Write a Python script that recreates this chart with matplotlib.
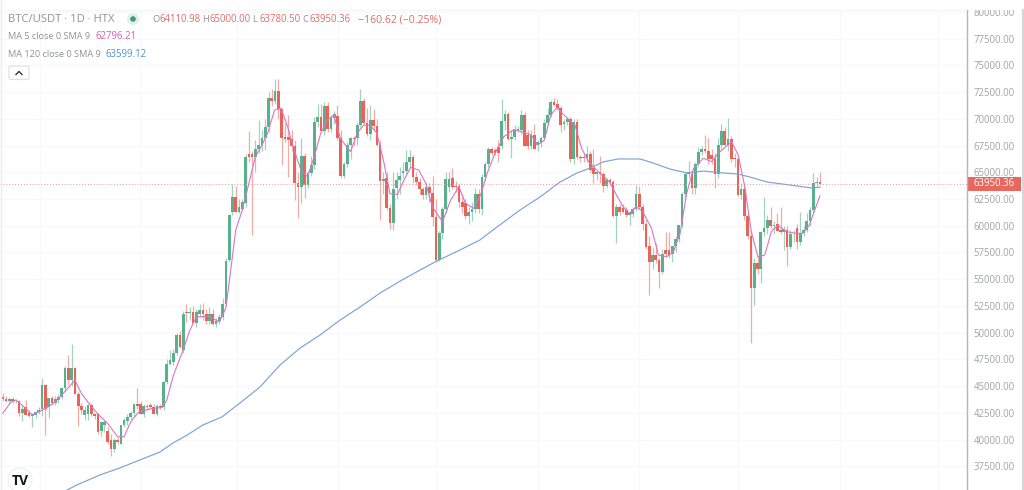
import numpy as np
import matplotlib
matplotlib.use("Agg")
import matplotlib.pyplot as plt
from matplotlib.patches import Rectangle, Circle, FancyBboxPatch
from matplotlib.lines import Line2D
from matplotlib.transforms import Affine2D

# prices are in hundreds of USDT
opens = [440,438,436,438,436,436,425,430,425,422,
423,426,429,451,430,439,434,437,440,448,
467,456,467,443,431,423,424,432,424,424,
408,414,408,400,391,400,396,414,417,421,
425,433,433,424,431,432,430,424,431,430,
454,471,473,481,498,484,519,518,519,509,
517,521,517,511,517,508,511,515,527,568,
613,627,613,616,621,667,667,664,672,676,
682,692,720,717,726,709,683,683,681,675,
640,636,665,638,649,657,697,702,689,712,
691,701,703,682,647,658,676,682,682,694,
717,696,686,699,693,676,642,645,617,603,
635,643,649,651,660,664,646,641,634,629,
636,631,608,568,593,616,636,645,637,637,
622,621,609,613,616,630,616,646,658,672,
671,674,675,698,705,681,683,690,690,704,
685,675,685,676,677,682,696,704,716,714,
710,695,697,700,662,697,664,664,663,667,
654,648,650,648,637,643,641,609,618,617,
615,610,611,616,630,618,602,581,566,573,
568,557,577,577,574,581,588,601,630,650,
648,635,658,669,672,670,666,662,648,676,
689,676,681,663,662,629,634,609,590,542,
565,560,594,598,605,600,602,596,594,596,
580,592,598,585,593,596,604,615,640,641.1]

highs = [444,441,440,440,438,437,431,437,428,425,
427,430,458,452,436,441,441,443,449,469,
479,489,468,445,434,431,433,434,425,425,
416,418,412,405,401,402,414,420,424,427,
434,448,436,433,433,434,433,433,433,455,
475,484,485,500,502,520,527,524,525,522,
527,528,522,524,522,514,517,532,570,611,
639,637,625,625,667,689,670,680,699,690,
700,725,728,737,737,710,696,704,690,680,
650,682,668,652,665,702,714,714,716,716,
704,707,713,690,660,678,683,684,697,728,
720,710,713,709,700,680,650,650,620,650,
650,655,660,671,671,666,650,645,636,640,
640,647,625,595,618,650,650,654,642,640,
630,625,618,622,635,634,648,660,674,674,
673,680,719,708,706,690,694,693,708,706,
690,690,695,680,684,700,710,718,720,719,
712,700,702,702,700,700,666,668,675,670,
672,650,665,650,645,645,643,620,620,620,
618,614,618,638,637,620,605,590,580,584,
570,578,594,594,580,590,600,632,650,661,
652,660,674,675,685,682,672,668,682,695,
692,701,684,668,664,640,640,612,596,570,
572,594,627,610,618,604,612,618,600,600,
596,596,602,613,600,612,618,649,646,650]

lows = [436,435,433,434,434,422,417,423,421,412,
420,424,422,404,420,432,432,434,438,445,
451,450,443,413,424,418,418,422,419,405,
403,407,396,385,388,396,396,412,414,419,
422,429,424,421,428,429,424,422,429,428,
452,470,470,479,486,481,510,512,508,505,
515,512,508,508,507,505,508,512,525,566,
610,613,612,615,618,660,591,650,668,670,
671,688,712,714,700,657,678,646,670,624,
607,621,626,635,647,653,692,688,685,688,
688,695,680,645,645,655,662,675,676,692,
695,684,680,690,675,605,630,615,597,596,
625,630,645,648,655,640,638,630,625,625,
622,600,566,567,588,612,632,634,632,618,
612,606,602,604,612,612,610,642,655,666,
666,660,672,690,680,663,680,688,686,675,
672,672,672,670,674,680,694,702,712,708,
688,690,694,660,658,662,660,660,660,650,
640,643,640,632,635,638,608,584,610,612,
608,601,608,614,616,596,578,535,560,565,
542,555,572,570,566,575,585,598,625,645,
630,630,655,666,668,658,658,635,645,672,
675,670,660,655,628,625,605,588,490,526,
555,546,590,592,598,592,595,592,577,562,
578,585,578,582,590,594,600,612,636,637.8]

closes = [438,436,438,436,437,425,429,423,422,424,
426,428,451,429,439,434,438,440,448,467,
456,467,443,431,428,428,432,424,422,407,
416,416,398,391,400,398,414,418,421,425,
433,431,424,431,430,430,424,431,430,454,
471,474,481,498,487,517,518,519,509,519,
521,517,511,517,508,511,515,527,567,610,
627,613,618,622,664,664,664,672,676,682,
692,720,717,726,709,682,681,680,675,640,
636,665,638,649,657,697,702,689,712,691,
702,705,682,647,658,676,682,681,694,717,
696,686,699,693,676,642,644,617,603,634,
643,647,651,660,664,646,641,634,629,636,
631,608,568,593,616,644,644,636,636,622,
618,609,613,616,630,616,646,658,672,668,
668,668,698,705,681,683,690,691,704,675,
675,685,672,678,682,696,704,716,713,710,
694,697,700,662,697,664,663,663,667,652,
648,650,648,637,643,641,609,618,613,613,
610,612,616,630,618,602,580,566,573,568,
557,574,574,573,581,588,601,630,648,648,
635,658,669,672,670,662,662,648,676,689,
676,681,662,662,629,634,609,590,542,565,
560,594,598,605,600,601,595,594,597,580,
592,592,585,593,596,604,615,640,641,639.5]

ma5_days = [0,2.5,4,6,9,13,16,19,22,24,27,29,32,35,37,39,41.5,45.5,48.6,50,52,55,57,59,63,66,68,
69.6,71,73,75,77,79,80.7,82.8,84.8,86.8,88.8,90.9,92.9,94.9,96.9,98.9,100.9,102.9,106,108,110,112,114,116,118,
120.3,122.3,124.3,126.8,128.9,130.9,134,136.5,139,141,143.5,145.6,147.6,150,152.7,155.7,158,161,163,165,167,168.9,171,174.4,176.4,
178.5,181.5,184.8,187,189,191,193,195,197.7,199.8,202.3,204.4,206.4,208.4,210.5,213.5,216,218,222.1,224.1,226.1,228.1,230.1,232.2,234.2,236.2,238.7,241.8,243.8,245.8,247.8,249]
ma5_values = [424.4,435,437,432,423,429,435,445,455.6,443,431,424,415,402.6,402.6,416.6,426,429,430,437,460,484,502,515,515,510,523,
561.6,596,614.7,639.6,664.6,675.5,686.4,708,710,692.7,670.8,652,645.9,664.6,686.4,698.9,703.6,681.7,669.3,686.4,694.2,694.2,686.4,661.5,630,
629.4,642.8,654.6,652,639.7,617.8,603.8,624,636.6,621,616.3,628.8,649,667.8,683.4,690,688,685,675.6,680,703.6,710.8,703.6,694,672.4,
660,650.6,641.3,628.8,617.9,611.6,617.9,613.2,597.6,572.6,571,575.7,592.9,630.3,653.7,663.1,660,667.8,678.7,666.2,636.6,594.5,571,572.6,594.5,600.7,594.5,592.9,592.9,600.7,617.9,627.96]

ma120_days = [19.6,22.6,29.6,35.7,41.8,47.9,51.9,56.2,61,66.8,72.3,78.4,84.5,90.6,96.7,102.8,108.9,115,121.7,127.2,131.7,139.3,145.4,150.6,157.6,163.7,169.8,175,179,182.9,187.5,194.2,198.2,203.3,208.5,213.4,219.5,224,227.7,232.9,239.9,246.6,249]
ma120_values = [352.8,357.5,366.8,373.4,380.9,388.3,396.8,404.2,413.6,421.1,434.2,449.2,469.7,485.6,497.8,511.8,524,537.1,549.3,558.6,566.1,577.3,586.7,598.8,614.7,626.9,640.9,649.4,654,659.7,662.5,662.5,658.7,653.1,649.4,651.2,649.4,648.4,645.6,640.9,638.1,635.3,635.99]

price_ticks = [37500,40000,42500,45000,47500,50000,52500,55000,57500,60000,62500,65000,67500,70000,72500,75000,77500,80000]
month_days = [11.4,41.8,71.4,102.2,132,163,194,224,255,285]
last_price = 63950.36

GREEN, RED = "#58b08d", "#ea6358"
GREEN_W, RED_W = "#a3d2bf", "#f2aca6"
TXT = "#8f929a"
TICK = "#a0a3ab"

plt.rcParams["font.family"] = ["Open Sans", "DejaVu Sans"]
fig = plt.figure(figsize=(10.24, 4.90), dpi=100, facecolor="white")
ax = fig.add_axes([0, 0, 966.5 / 1024, 1])
ax.set_facecolor("white")
px = Affine2D().scale(1 / 1024, -1 / 490).translate(0, 1) + fig.transFigure

o, h, l, c = [np.array(a, float) * 100 for a in (opens, highs, lows, closes)]
days = np.arange(len(o))
up = c >= o

for d in month_days:
    ax.axvline(d, color="#f8f8fa", lw=0.8, zorder=0)
for t in price_ticks:
    ax.axhline(t, color="#f8f8fa", lw=0.8, zorder=0)

ax.vlines(days, l, h, colors=np.where(up, GREEN_W, RED_W), lw=0.9, zorder=2)
body = np.maximum(np.abs(c - o), 70)
ax.bar(days, body, bottom=np.minimum(o, c), width=0.82,
       color=np.where(up, GREEN, RED), linewidth=0, zorder=3)
ax.plot(ma120_days, np.array(ma120_values) * 100, color="#7ba3d6", lw=0.85, zorder=4)
ax.plot(ma5_days, np.array(ma5_values) * 100, color="#d776c6", lw=0.8, zorder=5)
ax.axhline(last_price, color="#ea9a93", lw=0.7, ls=(0, (1, 2)), zorder=4)

ax.set_xlim(-2.7 / 3.282, (966.5 - 2.7) / 3.282)
ax.set_ylim(80000 - (490 - 12) * 93.56, 80000 + 12 * 93.56)
ax.yaxis.tick_right()
ax.set_yticks(price_ticks)
ax.set_yticklabels([f"{t:.2f}" for t in price_ticks])
ax.tick_params(axis="y", length=0, pad=5, labelsize=6.9, labelcolor=TICK)
ax.set_xticks([])
for s in ax.spines.values():
    s.set_visible(False)
ax.add_patch(Rectangle((966.5, 177), 54, 13.5, transform=px, fc="#e8675f", ec="none",
                       clip_on=False, zorder=9))
ax.text(1.0 + 7 / 966.5, last_price, f"{last_price:.2f}", transform=ax.get_yaxis_transform(),
        ha="left", va="center", color="white", fontsize=6.9, zorder=10, clip_on=False)

# top cover and frame
fig.add_artist(Rectangle((0, 0), 1024, 10, transform=px, fc="white", ec="none", zorder=5))
fig.add_artist(Line2D([966.5, 966.5], [10, 490], transform=px, color="#b2b5bc", lw=1.0, zorder=6))
fig.add_artist(Line2D([1022.5, 1022.5], [10, 490], transform=px, color="#d6d7db", lw=1.6, zorder=6))
fig.add_artist(Line2D([0.5, 0.5], [0, 490], transform=px, color="#ececee", lw=1.0, zorder=6))
fig.add_artist(Line2D([0, 966], [10, 10], transform=px, color="#f4f5f6", lw=0.8, zorder=6))


def label(x, y, s, color=TXT, size=6.7, **kw):
    fig.text(x / 1024, 1 - y / 490, s, color=color, fontsize=size, va="center", ha="left", zorder=8, **kw)


label(8, 19.5, "BTC/USDT · 1D · HTX", size=8.1)
fig.add_artist(Circle((133, 19), 6, transform=px, fc="#dff0ea", ec="none", zorder=7))
fig.add_artist(Circle((133, 19), 2.8, transform=px, fc="#3f9b7c", ec="none", zorder=8))
VAL = "#df6d66"
for x, k, v in [(152, "O", "64110.98"), (202, "H", "65000.00"), (252, "L", "63780.50"), (302, "C", "63950.36")]:
    label(x, 19.5, k, color=TXT)
    label(x + 7, 19.5, v, color=VAL, size=6.9)
label(358, 19.5, "−160.62 (−0.25%)", color=VAL, size=7.6)
label(8, 36.5, "MA 5 close 0 SMA 9", size=6.6)
label(95, 36.5, "62796.21", color="#d160bf", size=6.9)
label(8, 54.5, "MA 120 close 0 SMA 9", size=6.6)
label(105, 54.5, "63599.12", color="#4f8fd0", size=6.9)

fig.add_artist(FancyBboxPatch((9, 66), 20, 13.5, boxstyle="round,pad=0,rounding_size=1.5",
                              transform=px, fc="white", ec="#dfe0e4", lw=0.8, zorder=7))
fig.add_artist(Line2D([16, 19, 22], [74.5, 71.5, 74.5], transform=px, color="#33353a", lw=1.0, zorder=8))

fig.add_artist(Circle((20, 480), 12, transform=px, fc="white", ec="#eeeff1", lw=0.8, zorder=7))
fig.text(20 / 1024, 1 - 481 / 490, "TV", color="#131722", fontsize=10, fontweight="bold",
         ha="center", va="center", zorder=8)

fig.savefig("out.png", dpi=100, facecolor="white")
